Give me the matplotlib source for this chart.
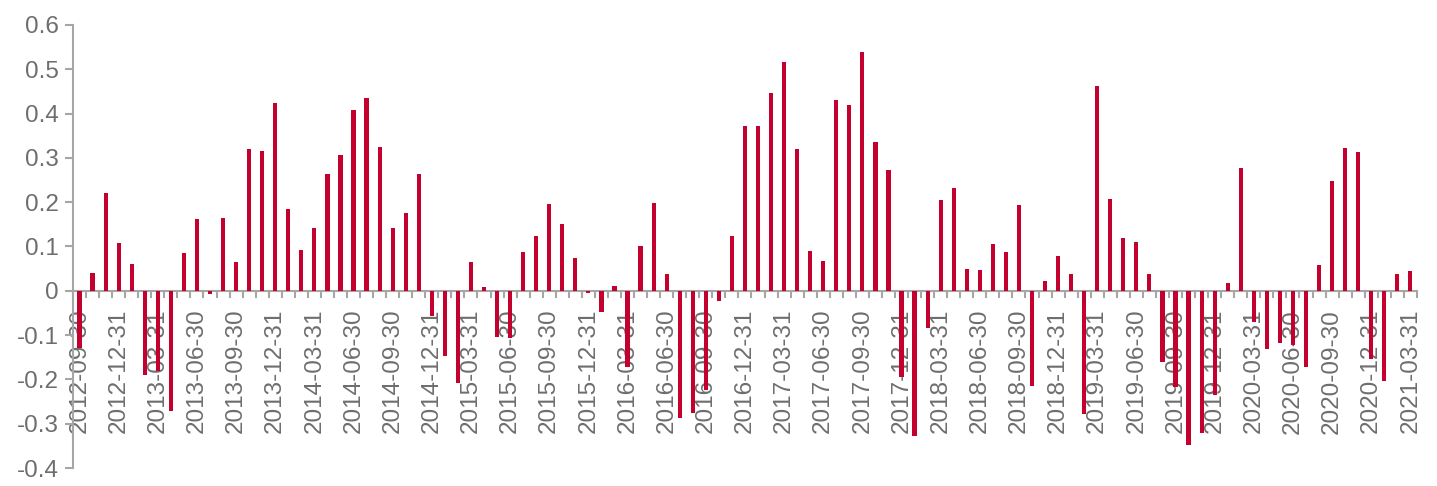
import matplotlib
matplotlib.use("Agg")
import matplotlib.pyplot as plt
import numpy as np
from matplotlib.ticker import FixedLocator, MultipleLocator

# quarter-end labels, one every third bar
tick_labels = [
    "2012-09-30", "2012-12-31", "2013-03-31", "2013-06-30", "2013-09-30", "2013-12-31",
    "2014-03-31", "2014-06-30", "2014-09-30", "2014-12-31", "2015-03-31", "2015-06-30",
    "2015-09-30", "2015-12-31", "2016-03-31", "2016-06-30", "2016-09-30", "2016-12-31",
    "2017-03-31", "2017-06-30", "2017-09-30", "2017-12-31", "2018-03-31", "2018-06-30",
    "2018-09-30", "2018-12-31", "2019-03-31", "2019-06-30", "2019-09-30", "2019-12-31",
    "2020-03-31", "2020-06-30", "2020-09-30", "2020-12-31", "2021-03-31",
]

# monthly values
values = [
    -0.128, 0.040, 0.220, 0.107, 0.061, -0.191, -0.182, -0.272, 0.085, 0.163,
    -0.008, 0.164, 0.066, 0.319, 0.315, 0.425, 0.185, 0.092, 0.142, 0.263,
    0.307, 0.407, 0.436, 0.325, 0.141, 0.175, 0.263, -0.058, -0.148, -0.207,
    0.066, 0.008, -0.104, -0.107, 0.087, 0.124, 0.197, 0.150, 0.074, -0.004,
    -0.047, 0.011, -0.171, 0.102, 0.199, 0.037, -0.287, -0.276, -0.225, -0.022,
    0.124, 0.371, 0.371, 0.446, 0.516, 0.321, 0.089, 0.067, 0.430, 0.419,
    0.538, 0.335, 0.272, -0.195, -0.327, -0.084, 0.206, 0.233, 0.050, 0.047,
    0.105, 0.087, 0.194, -0.214, 0.021, 0.079, 0.039, -0.278, 0.462, 0.208,
    0.120, 0.110, 0.037, -0.160, -0.218, -0.347, -0.321, -0.236, 0.017, 0.278,
    -0.070, -0.132, -0.118, -0.122, -0.171, 0.058, 0.248, 0.323, 0.314, -0.154,
    -0.204, 0.037, 0.045,
]

bar_color = "#C4002F"
axis_color = "#A6A6A6"
text_color = "#6E6E6E"

plt.rcParams["font.family"] = ["Liberation Sans", "DejaVu Sans"]

fig = plt.figure(figsize=(14.37, 4.86), dpi=100)
ax = fig.add_axes([0.0508, 0.037, 0.9352, 0.9116])

x = np.arange(len(values))
ax.bar(x, values, width=0.32, color=bar_color, zorder=2)

ax.set_xlim(-0.5, len(values) - 0.5)
ax.set_ylim(-0.4, 0.6)

for s in ["top", "right"]:
    ax.spines[s].set_visible(False)
ax.spines["bottom"].set_position(("data", 0))
ax.spines["bottom"].set_color(axis_color)
ax.spines["left"].set_color(axis_color)
ax.spines["bottom"].set_linewidth(1.5)
ax.spines["left"].set_linewidth(1.5)
ax.spines["bottom"].set_zorder(1)

ax.xaxis.set_major_locator(FixedLocator(x[::3]))
ax.set_xticklabels(tick_labels, rotation=90)
ax.xaxis.set_minor_locator(FixedLocator(np.arange(len(values) + 1) - 0.5))
ax.tick_params(axis="x", which="major", length=0, pad=13, labelsize=17.5,
               labelcolor=text_color)
ax.tick_params(axis="x", which="minor", length=5, width=1.5, color=axis_color,
               direction="out")
for lbl in ax.get_xticklabels():
    lbl.set_verticalalignment("top")

ax.yaxis.set_major_locator(MultipleLocator(0.1))
ax.set_yticklabels([f"{v:.1f}".replace("-0.0", "0").replace("0.0", "0")
                    for v in ax.get_yticks()])
ax.tick_params(axis="y", length=6, width=1.5, color=axis_color,
               labelsize=17.5, labelcolor=text_color, pad=4)

fig.savefig("out.png", dpi=100)
